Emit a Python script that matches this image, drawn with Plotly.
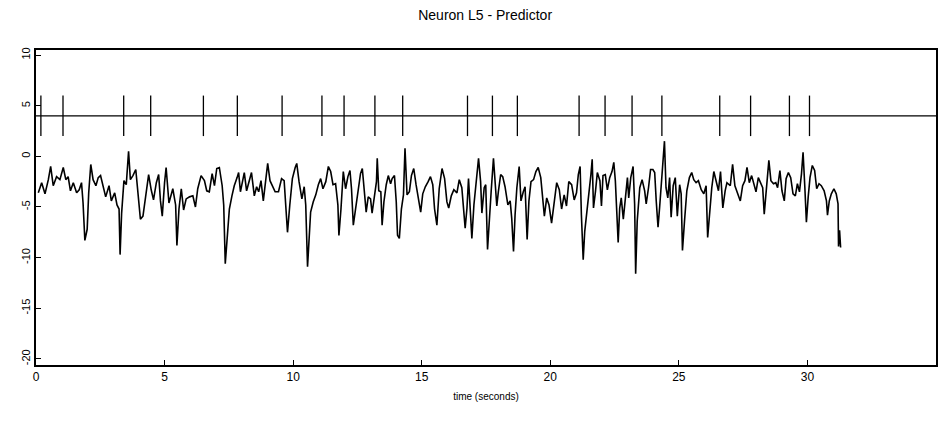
import plotly.graph_objects as go

# ---- data ----
spike_times = [0.19, 1.05, 3.41, 4.46, 6.51, 7.83, 9.57, 11.12, 11.98, 13.18,
               14.26, 16.78, 17.75, 18.72, 21.12, 22.13, 23.18, 24.34, 26.59,
               27.79, 29.30, 30.08]
spike_baseline = 4.0
spike_low = 2.0
spike_high = 6.0

time_s = [
    0.09, 0.22, 0.35, 0.48, 0.57, 0.67, 0.80, 0.93, 1.06, 1.16, 1.25, 1.34, 1.45, 1.58,
    1.68, 1.77, 1.83, 1.90, 1.99, 2.05, 2.13, 2.22, 2.33, 2.42, 2.51, 2.61, 2.71, 2.84,
    2.93, 3.06, 3.15, 3.23, 3.27, 3.33, 3.42, 3.51, 3.60, 3.67, 3.77, 3.88, 3.97, 4.06,
    4.16, 4.26, 4.38, 4.48, 4.57, 4.68, 4.77, 4.84, 4.91, 5.00, 5.06, 5.17,
    5.32, 5.43, 5.48, 5.56, 5.65, 5.74, 5.84, 5.97, 6.10, 6.20, 6.29, 6.42, 6.55, 6.64,
    6.74, 6.85, 6.94, 7.03, 7.13, 7.24, 7.30, 7.36, 7.44, 7.52, 7.62, 7.71, 7.82, 7.88,
    7.95, 8.04, 8.10, 8.19, 8.29, 8.38, 8.49, 8.58, 8.66, 8.75, 8.84, 8.94, 9.01, 9.10,
    9.20, 9.30, 9.43, 9.55, 9.65, 9.72, 9.78, 9.87, 9.97, 10.08, 10.14, 10.23, 10.34,
    10.43, 10.49, 10.56,
    10.62, 10.68, 10.78, 10.88, 10.98, 11.07, 11.16, 11.27, 11.37, 11.46, 11.55, 11.65,
    11.74, 11.78, 11.86, 11.95, 12.04, 12.13, 12.21, 12.27, 12.34, 12.43, 12.53, 12.62,
    12.69, 12.76, 12.84, 12.92, 13.01, 13.07, 13.17, 13.24, 13.27, 13.33, 13.41, 13.46,
    13.53, 13.62, 13.70, 13.79, 13.85, 13.94, 14.01, 14.06, 14.13, 14.21, 14.29, 14.35,
    14.43, 14.52, 14.60, 14.69, 14.78, 14.88, 14.96, 15.04, 15.14, 15.25, 15.34, 15.43,
    15.50, 15.59, 15.68, 15.79, 15.89, 15.98,
    16.05, 16.15, 16.25, 16.37, 16.46, 16.56, 16.64, 16.69, 16.76, 16.82, 16.90, 16.95,
    17.03, 17.11, 17.21, 17.29, 17.34, 17.43, 17.49, 17.56, 17.62, 17.70, 17.79, 17.86,
    17.92, 17.98, 18.07, 18.15, 18.24, 18.35, 18.44, 18.50, 18.57, 18.63, 18.70, 18.79,
    18.86, 18.95, 19.02, 19.10, 19.17, 19.25, 19.35, 19.44, 19.53, 19.63, 19.70, 19.77,
    19.86, 19.95, 20.05, 20.16, 20.25, 20.35, 20.44, 20.54, 20.63, 20.72, 20.83, 20.93,
    21.02, 21.09, 21.16, 21.21, 21.28, 21.34, 21.45,
    21.58, 21.63, 21.68, 21.76, 21.83, 21.93, 21.99, 22.05, 22.14, 22.22, 22.31, 22.40,
    22.47, 22.53, 22.60, 22.64, 22.70, 22.76, 22.84, 22.92, 23.00, 23.05, 23.13, 23.22,
    23.28, 23.32, 23.38, 23.48, 23.57, 23.67, 23.73, 23.82, 23.90, 23.99, 24.06, 24.12,
    24.19, 24.25, 24.34, 24.41, 24.44, 24.50, 24.57, 24.64, 24.70, 24.78, 24.86, 24.94,
    25.03, 25.09, 25.14, 25.22, 25.31, 25.41, 25.50, 25.58, 25.67, 25.76, 25.87, 25.97,
    26.06, 26.12, 26.20, 26.28, 26.36, 26.45, 26.54, 26.62, 26.71, 26.80, 26.87,
    27.00, 27.09, 27.18, 27.29, 27.39, 27.48, 27.57, 27.65, 27.74, 27.83, 27.93, 28.00,
    28.09, 28.19, 28.26, 28.32, 28.39, 28.45, 28.50, 28.58, 28.68, 28.77, 28.84, 28.93,
    29.01, 29.10, 29.17, 29.26, 29.35, 29.44, 29.53, 29.61, 29.69, 29.77, 29.83, 29.90,
    29.96, 30.03, 30.10, 30.19, 30.28, 30.36, 30.45, 30.54, 30.65, 30.74, 30.78, 30.85,
    30.93, 31.03, 31.12, 31.19, 31.21, 31.25, 31.29,
]

potential = [
    -3.6, -2.6, -3.7, -2.3, -1.0, -2.9, -2.0, -2.3, -1.1, -2.3, -2.0, -3.4, -2.6, -3.6,
    -3.3, -2.6, -4.6, -8.3, -7.2, -3.6, -0.8, -2.3, -2.9, -2.1, -1.9, -3.1, -4.0, -2.9,
    -4.4, -3.6, -4.8, -5.2, -9.7, -5.6, -2.4, -2.8, 0.5, -2.3, -1.9, -1.3, -3.9, -6.2,
    -5.9, -3.9, -1.8, -3.3, -4.3, -2.6, -1.8, -4.4, -5.9, -2.6, -1.1, -4.6,
    -3.2, -4.8, -8.8, -5.2, -3.2, -5.3, -4.2, -4.0, -3.9, -5.0, -3.2, -1.9, -2.4, -3.4,
    -3.5, -1.7, -2.9, -1.2, -1.1, -2.9, -4.8, -10.6, -8.1, -5.2, -3.9, -2.9, -2.1, -1.6,
    -3.5, -2.5, -1.6, -3.4, -2.4, -1.6, -3.9, -3.0, -3.5, -2.4, -4.4, -1.9, -0.7, -2.4,
    -2.9, -3.5, -3.5, -2.2, -2.4, -4.8, -7.5, -4.8, -2.2, -1.1, -0.7, -2.5, -4.2,
    -3.0, -4.8, -10.9,
    -7.8, -5.5, -4.5, -3.8, -2.8, -2.2, -3.2, -2.5, -1.0, -1.5, -2.8, -2.7,
    -4.8, -7.8, -5.2, -1.5, -3.2, -2.0, -1.4, -3.2, -6.8, -5.2, -3.5, -1.7,
    -1.2, -3.2, -5.5, -4.0, -4.2, -5.6, -3.5, -2.5, -0.2, -3.4, -3.5, -6.8,
    -4.5, -2.8, -1.9, -2.7, -2.2, -1.9, -4.5, -7.8, -8.1, -5.2, -3.8, 0.8,
    -3.8, -3.5, -1.9, -1.2, -2.8, -4.2, -5.5, -3.7, -3.0, -2.5, -2.0, -2.8,
    -5.2, -6.8, -3.2, -1.2, -2.2, -4.5,
    -5.1, -3.9, -3.3, -3.6, -2.3, -3.1, -5.4, -7.1, -5.1, -2.2, -5.8, -8.1,
    -4.8, -2.8, -0.2, -2.5, -5.6, -3.1, -2.8, -9.2, -6.1, -3.5, -0.2, -2.5,
    -4.9, -3.5, -1.8, -2.0, -3.0, -4.8, -4.4, -6.1, -9.4, -5.8, -3.1, -1.0,
    -4.4, -3.5, -3.0, -8.2, -4.4, -2.5, -2.3, -1.5, -1.1, -2.1, -3.8, -5.9,
    -4.1, -4.8, -6.6, -4.1, -2.6, -3.3, -5.2, -3.8, -4.9, -2.5, -2.8, -4.3,
    -3.6, -1.8, -1.0, -5.8, -10.2, -7.4, -5.1,
    -1.8, -0.3, -5.1, -3.4, -1.6, -2.4, -4.9, -1.9, -1.8, -3.3, -2.1, -1.5,
    -0.6, -2.4, -5.7, -8.5, -5.1, -4.1, -6.2, -3.7, -2.1, -4.1, -2.1, -1.0,
    -4.7, -11.6, -6.4, -3.1, -2.3, -3.4, -4.7, -3.1, -1.3, -1.3, -1.6, -4.4,
    -7.0, -5.1, -2.1, 0.2, 1.5, -3.1, -4.1, -2.1, -6.0, -2.9, -2.1, -5.9,
    -2.8, -3.7, -9.3, -6.4, -3.4, -2.1, -1.6, -2.3, -2.6, -2.4, -3.3, -3.7,
    -2.9, -8.0, -5.4, -3.1, -1.5, -2.4, -3.4, -1.5, -5.1, -3.4, -2.6,
    -2.9, -0.8, -2.9, -3.7, -4.4, -2.9, -2.4, -1.1, -2.6, -1.9, -2.7, -3.5,
    -2.1, -2.6, -3.1, -5.7, -3.4, -1.7, -0.4, -2.4, -2.7, -2.6, -3.1, -1.4,
    -3.4, -4.4, -2.2, -1.6, -2.1, -3.7, -3.9, -2.7, -3.5, -1.7, 0.4, -3.1,
    -6.5, -4.0, -2.1, -0.9, -1.4, -3.2, -2.7, -2.9, -3.4, -4.4, -5.8, -4.4,
    -3.7, -3.2, -3.7, -4.7, -8.9, -7.3, -9.0,
]

x_range = [0, 35]
y_range = [-20.6, 10.5]
x_ticks = [0, 5, 10, 15, 20, 25, 30, 35]
y_ticks = [-20, -15, -10, -5, 0, 5, 10]

# spike raster as one trace with gaps
sx, sy = [], []
for t in spike_times:
    sx += [t, t, None]
    sy += [spike_low, spike_high, None]

fig = go.Figure()
fig.add_trace(go.Scatter(x=x_range, y=[spike_baseline, spike_baseline], mode="lines",
                         line=dict(color="black", width=1.3), hoverinfo="skip"))
fig.add_trace(go.Scatter(x=sx, y=sy, mode="lines",
                         line=dict(color="black", width=1.3), hoverinfo="skip"))
fig.add_trace(go.Scatter(x=time_s, y=potential, mode="lines",
                         line=dict(color="black", width=1.6)))

axis_common = dict(showgrid=False, zeroline=False, showline=True, linecolor="black",
                   linewidth=1.5, mirror=True, ticks="inside", ticklen=5,
                   tickcolor="black", tickwidth=1)

fig.update_layout(
    width=942, height=425,
    margin=dict(l=36, r=4, t=50, b=60),
    paper_bgcolor="white", plot_bgcolor="white",
    showlegend=False,
    font=dict(family="Liberation Sans, Arial, sans-serif", color="black", size=11),
    title=dict(text="Neuron L5 - Predictor", x=0.515, xanchor="center", y=0.965,
               yanchor="middle", font=dict(size=14)),
    xaxis=dict(range=x_range, tickvals=x_ticks, ticktext=[str(v) for v in x_ticks],
               title=dict(text="time (seconds)", font=dict(size=10), standoff=10),
               tickfont=dict(size=12), **axis_common),
    yaxis=dict(range=y_range, tickvals=y_ticks, ticktext=[str(v) for v in y_ticks],
               tickangle=-90, tickfont=dict(size=11), **axis_common),
)

fig.write_html("out.html")
